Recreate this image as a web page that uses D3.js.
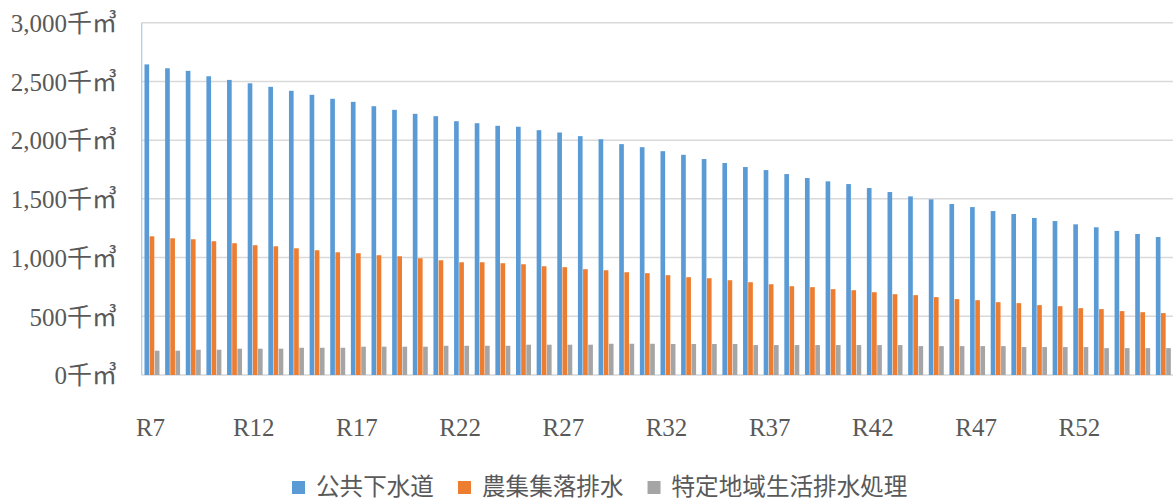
<!DOCTYPE html>
<html>
<head>
<meta charset="utf-8">
<script src="https://cdn.jsdelivr.net/npm/d3@7"></script>
<style>
  html, body { margin: 0; padding: 0; background: #fff; }
  svg { display: block; }
</style>
</head>
<body>
<svg id="chart" width="1173" height="500"></svg>
<script>
// ---- data ----
const categories = Array.from({length: 50}, (_, i) => "R" + (i + 7));
const seriesNames = ["公共下水道", "農集集落排水", "特定地域生活排水処理"];
const seriesColors = ["#5B9BD5", "#ED7D31", "#A5A5A5"];
const publicSewer = [
  2645, 2612, 2590, 2544, 2513, 2484, 2454, 2420, 2386, 2352,
  2326, 2289, 2258, 2224, 2204, 2161, 2144, 2122, 2114, 2085,
  2065, 2034, 2008, 1966, 1940, 1906, 1875, 1839, 1805, 1771,
  1745, 1711, 1677, 1649, 1626, 1592, 1558, 1521, 1496, 1456,
  1430, 1396, 1371, 1337, 1311, 1283, 1258, 1227, 1201, 1175
];
const ruralSewer = [
  1181, 1164, 1156, 1139, 1122, 1105, 1096, 1079, 1062, 1045,
  1037, 1020, 1011, 994, 977, 960, 960, 952, 943, 926,
  918, 901, 892, 875, 867, 850, 833, 824, 807, 790,
  773, 756, 748, 731, 722, 705, 688, 680, 663, 646,
  637, 620, 612, 595, 586, 569, 561, 544, 535, 527
];
const specificRegion = [
  207, 207, 215, 215, 224, 224, 224, 232, 232, 232,
  241, 241, 241, 241, 249, 249, 249, 249, 258, 258,
  258, 258, 266, 266, 266, 264, 264, 264, 264, 255,
  255, 255, 255, 255, 255, 255, 255, 246, 246, 246,
  246, 246, 238, 238, 238, 238, 229, 229, 229, 229
];
const yTicks = [0, 500, 1000, 1500, 2000, 2500, 3000];
const xTickLabels = ["R7", "R12", "R17", "R22", "R27", "R32", "R37", "R42", "R47", "R52"];

const allSeries = [publicSewer, ruralSewer, specificRegion];

// ---- layout ----
const svg = d3.select("#chart");
const plot = {left: 141.7, right: 1173.7, top: 22.7, bottom: 375};
const textColor = "#595959";
const serif = "'Liberation Serif', 'Noto Sans CJK JP', serif";

const x0 = d3.scaleBand().domain(categories).range([plot.left, plot.right])
  .paddingInner(0.25).paddingOuter(0.125);
const x1 = d3.scaleBand().domain(d3.range(seriesNames.length)).range([0, x0.bandwidth()]);
const y = d3.scaleLinear().domain([0, 3000]).range([plot.bottom, plot.top]);

// gridlines
svg.append("g").selectAll("line").data(yTicks).join("line")
  .attr("x1", plot.left).attr("x2", 1173)
  .attr("y1", d => y(d)).attr("y2", d => y(d))
  .attr("stroke", "#D9D9D9").attr("stroke-width", 1.5);

// y axis labels
const yAxis = d3.axisLeft(y).tickValues(yTicks).tickSize(0).tickPadding(0)
  .tickFormat(d => d3.format(",")(d) + "千㎥");
const gy = svg.append("g").attr("transform", "translate(117,0)").call(yAxis);
gy.select(".domain").remove();
gy.selectAll("text").attr("fill", textColor).style("font-family", serif)
  .style("font-size", "25px").attr("dy", "0.35em");

// left axis line (light blue)
svg.append("line").attr("x1", plot.left).attr("x2", plot.left)
  .attr("y1", plot.top).attr("y2", plot.bottom)
  .attr("stroke", "#A9CBEA").attr("stroke-width", 1.2);

// bars
const groups = svg.append("g").selectAll("g").data(categories).join("g")
  .attr("transform", d => `translate(${x0(d)},0)`);
groups.selectAll("rect").data((d, i) => allSeries.map((s, k) => ({k, v: s[i]}))).join("rect")
  .attr("x", d => x1(d.k) + 0.2)
  .attr("width", x1.bandwidth() - 0.5)
  .attr("y", d => y(d.v))
  .attr("height", d => y(0) - y(d.v))
  .attr("fill", d => seriesColors[d.k]);

// x axis labels
const xAxis = d3.axisBottom(x0).tickValues(xTickLabels).tickSize(0).tickPadding(0);
const gx = svg.append("g").attr("transform", `translate(-1.5,427)`).call(xAxis);
gx.select(".domain").remove();
gx.selectAll("text").attr("fill", textColor).style("font-family", serif)
  .style("font-size", "25px").attr("dy", "0.35em").attr("y", 0);

// legend
const legend = svg.append("g").attr("transform", "translate(292,487)");
let lx = 0;
seriesNames.forEach((name, k) => {
  legend.append("rect").attr("x", lx).attr("y", -6).attr("width", 13).attr("height", 13)
    .attr("fill", seriesColors[k]);
  const t = legend.append("text").attr("x", lx + 24).attr("y", 0).attr("dy", "0.35em")
    .attr("fill", textColor).style("font-family", serif).style("font-size", "23.6px")
    .text(name);
  lx += 24 + t.node().getComputedTextLength() + 24;
});
</script>
</body>
</html>
